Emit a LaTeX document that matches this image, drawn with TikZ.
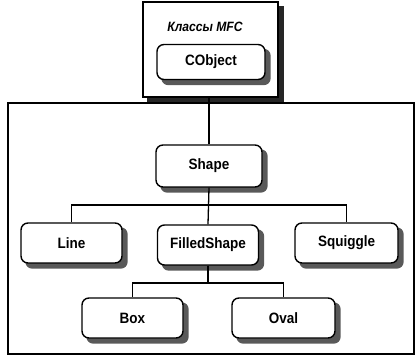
\documentclass[tikz,border=0pt]{standalone}
\usepackage{fontspec}
\setmainfont{Liberation Sans}[FakeStretch=0.9]
\usetikzlibrary{backgrounds}

\tikzset{
  cls/.style={draw, line width=1.4pt, rounded corners=7pt, fill=white,
    minimum width=101pt, minimum height=40pt, inner sep=0pt,
    font=\fontsize{15}{17}\selectfont\bfseries},
  group/.style={draw, line width=1.4pt, inner sep=0pt},
  shade/.style={fill=black!65},
  link/.style={line width=1.3pt}
}

\begin{document}
\begin{tikzpicture}[x=1pt,y=1pt]
\useasboundingbox (0,0) rectangle (418,-358);
% outer frame for the program classes
\draw [line width=1.4pt] (8,-103) rectangle (414,-354);
% MFC frame
\node [group, minimum width=135pt, minimum height=95pt] (mfc) at (210.5,-49.5) {};
\node [font=\fontsize{13.5}{15}\selectfont\bfseries\itshape] (mfctitle) at (205,-27) {Классы MFC};
\node [cls, minimum width=108pt, minimum height=35pt] (cobject) at (211,-62) {CObject};
% class nodes
\node [cls, minimum width=106pt, minimum height=42pt] (shape) at (209,-166) {Shape};
\node [cls] (line) at (71.5,-243) {Line};
\node [cls] (filled) at (208,-245) {FilledShape};
\node [cls, minimum width=103pt] (squiggle) at (346.5,-243) {Squiggle};
\node [cls] (box) at (132.5,-318) {Box};
\node [cls, minimum width=103pt] (oval) at (283.5,-318) {Oval};
% shadows
\begin{scope}[on background layer]
\fill [black!85] ([shift={(5,-5)}]mfc.south west) rectangle ([shift={(5,-5)}]mfc.north east);
\fill [white] (mfc.south west) rectangle (mfc.north east);
\foreach \n in {cobject,shape,line,filled,squiggle,box,oval}
  \fill [shade, rounded corners=7pt] ([shift={(5,-5)}]\n.south west) rectangle ([shift={(5,-5)}]\n.north east);
\end{scope}
% connectors
\draw [link] (shape.north) -- (shape.north |- mfc.south);
\coordinate (bus1) at (209,-205);
\draw [link] (shape.south) -- (filled.north);
\draw [link] (line.north) |- (bus1) -| (squiggle.north);
\coordinate (bus2) at (208,-283);
\draw [link] (filled.south) -- (bus2);
\draw [link] (box.north) |- (bus2) -| (oval.north);
\end{tikzpicture}
\end{document}
